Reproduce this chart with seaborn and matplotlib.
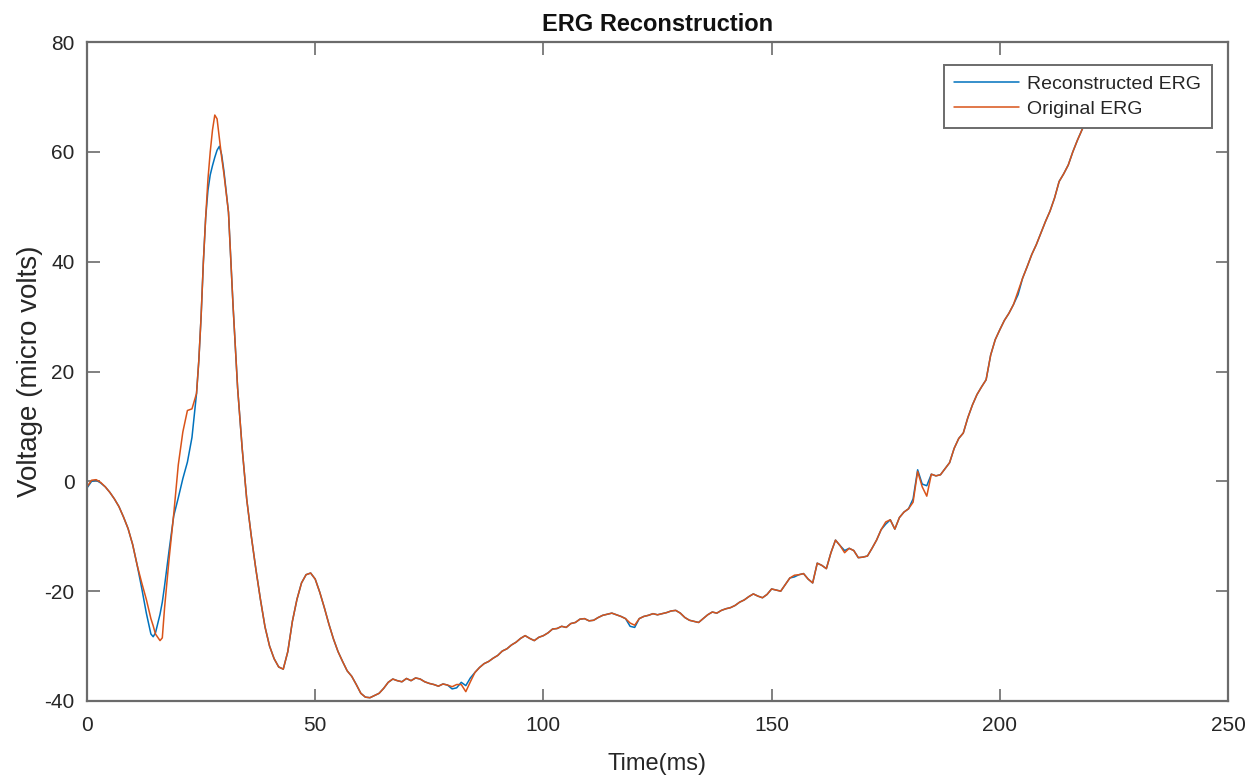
import numpy as np
import pandas as pd
import matplotlib
matplotlib.use("Agg")
import matplotlib.pyplot as plt
import seaborn as sns

# ---------------- data ----------------
time_ms = [0, 1, 2, 3, 4, 5, 6, 7, 8, 9, 10, 11, 12, 13, 14, 14.5, 15, 16, 16.5, 17,
           18, 19, 20, 21, 22, 23, 24, 24.5, 25, 25.5, 26, 26.5, 27, 27.5, 28, 28.5,
           29, 29.5, 30, 31, 32, 33, 34, 35, 36, 37, 38, 39, 40, 41, 42, 43, 44, 45,
           46, 47, 48, 49, 50, 51, 52, 53, 54, 55, 56, 57, 58, 59, 60, 61,
           62, 63, 64, 65, 66, 67, 68, 69, 70, 71, 72, 73, 74, 75, 76, 77, 78, 79,
           80, 81, 82, 83, 84, 85, 86, 87, 88, 89, 90, 91, 92, 93, 94, 95, 96, 97,
           98, 99, 100, 101, 102, 103, 104, 105, 106, 107, 108, 109, 110, 111, 112,
           113, 114, 115, 116, 117, 118, 119, 120, 121, 122, 123, 124, 125, 126, 127,
           128, 129, 130, 131, 132, 133, 134, 135, 136, 137, 138, 139, 140, 141, 142,
           143, 144, 145, 146, 147, 148, 149, 150, 151, 152, 153, 154, 155, 156, 157,
           158, 159, 160, 161, 162, 163, 164, 165, 166, 167, 168, 169, 170, 171, 172,
           173, 174, 175, 176, 177, 178, 179, 180, 181, 182, 183, 184, 185, 186, 187,
           188, 189, 190, 191, 192, 193, 194, 195, 196, 197, 198, 199, 200, 201, 202,
           203, 204, 205, 206, 207, 208, 209, 210, 211, 212, 213, 214, 215, 216, 217,
           218, 219, 220, 221]

reconstructed_uv = [-1.2, 0.0, 0.2, -0.3, -1.0, -2.0, -3.2, -4.6, -6.5, -8.6, -11.5, -15.3,
                    -19.5, -24.0, -27.8, -28.3, -27.6, -24.2, -22.0, -19.0,
                    -12.5, -6.3, -3.0, 0.5, 3.5, 8.0, 16.0, 22.0, 30.0, 40.0, 48.0, 53.0,
                    55.8, 57.5, 59.0, 60.3, 61.0, 59.5, 56.5, 49.0, 32.0, 17.0, 6.0, -3.3,
                    -10.0, -16.0, -21.5, -26.5, -30.0, -32.3, -33.8, -34.2, -31.0, -25.5,
                    -21.5, -18.5, -17.0, -16.7, -17.8, -20.2, -23.0, -26.0, -28.7, -31.0,
                    -32.8, -34.5, -35.5, -37.0, -38.6, -39.3,
                    -39.4, -39.0, -38.6, -37.7, -36.6, -36.0, -36.3, -36.5, -35.9, -36.3,
                    -35.8, -36.0, -36.5, -36.8, -37.0, -37.3, -36.9, -37.1,
                    -37.8, -37.6, -36.6, -37.2, -35.8, -34.8, -33.9, -33.2, -32.8, -32.2,
                    -31.7, -30.9, -30.5, -29.8, -29.3, -28.6, -28.1, -28.6,
                    -29.0, -28.4, -28.1, -27.6, -26.9, -26.8, -26.4, -26.6, -25.9, -25.7,
                    -25.1, -25.0, -25.4, -25.3, -24.8,
                    -24.4, -24.2, -24.0, -24.3, -24.6, -25.0, -26.4, -26.6, -25.0, -24.6,
                    -24.4, -24.1, -24.3, -24.1, -23.9,
                    -23.6, -23.5, -24.0, -24.8, -25.3, -25.5, -25.7, -25.0, -24.3, -23.8,
                    -24.0, -23.5, -23.2, -23.0, -22.6,
                    -22.0, -21.6, -21.0, -20.5, -20.9, -21.2, -20.6, -19.6, -19.8, -20.0,
                    -18.8, -17.6, -17.4, -17.0, -16.8,
                    -17.8, -18.5, -14.9, -15.3, -15.9, -13.0, -10.7, -11.7, -12.6, -12.2,
                    -12.6, -13.9, -13.8, -13.6, -12.2,
                    -10.7, -8.8, -7.8, -7.0, -8.7, -6.6, -5.6, -5.0, -3.2, 2.1, -0.5, -0.8,
                    1.3, 1.0, 1.2,
                    2.3, 3.4, 6.0, 7.8, 8.8, 11.6, 13.9, 15.8, 17.2, 18.5, 23.0, 25.8, 27.6,
                    29.3, 30.6,
                    32.2, 34.0, 37.0, 39.1, 41.3, 43.1, 45.2, 47.3, 49.2, 51.6, 54.6, 56.0,
                    57.6, 60.0, 62.1,
                    64.0, 65.8, 67.5, 69.0]

original_uv = [-1.0, 0.2, 0.3, -0.2, -1.0, -2.0, -3.2, -4.6, -6.5, -8.6, -11.5, -15.3,
               -18.5, -21.5, -25.0, -26.3, -27.8, -29.0, -28.5, -23.0,
               -14.0, -6.0, 3.0, 9.0, 12.9, 13.2, 16.0, 22.0, 30.0, 40.0, 48.0, 55.0,
               60.0, 64.0, 66.7, 66.0, 62.5, 59.0, 56.0, 49.0, 32.0, 17.0, 6.0, -3.3,
               -10.0, -16.0, -21.5, -26.5, -30.0, -32.3, -33.8, -34.2, -31.0, -25.5,
               -21.5, -18.5, -17.0, -16.7, -17.8, -20.2, -23.0, -26.0, -28.7, -31.0,
               -32.8, -34.5, -35.5, -37.0, -38.6, -39.3,
               -39.4, -39.0, -38.6, -37.7, -36.6, -36.0, -36.3, -36.5, -35.9, -36.3,
               -35.8, -36.0, -36.5, -36.8, -37.0, -37.3, -36.9, -37.1,
               -37.4, -37.0, -37.0, -38.3, -36.5, -34.8, -33.9, -33.2, -32.8, -32.2,
               -31.7, -30.9, -30.5, -29.8, -29.3, -28.6, -28.1, -28.6,
               -29.0, -28.4, -28.1, -27.6, -26.9, -26.8, -26.4, -26.6, -25.9, -25.7,
               -25.1, -25.0, -25.4, -25.3, -24.8,
               -24.4, -24.2, -24.0, -24.3, -24.6, -25.0, -25.8, -26.2, -25.0, -24.6,
               -24.4, -24.1, -24.3, -24.1, -23.9,
               -23.6, -23.5, -24.0, -24.8, -25.3, -25.5, -25.7, -25.0, -24.3, -23.8,
               -24.0, -23.5, -23.2, -23.0, -22.6,
               -22.0, -21.6, -21.0, -20.5, -20.9, -21.2, -20.6, -19.6, -19.8, -20.0,
               -18.8, -17.6, -17.1, -17.0, -16.8,
               -17.8, -18.5, -14.9, -15.3, -15.9, -13.0, -10.7, -11.7, -13.0, -12.2,
               -12.6, -13.9, -13.8, -13.6, -12.2,
               -10.7, -8.8, -7.4, -7.0, -8.7, -6.6, -5.6, -5.0, -3.8, 1.8, -1.0, -2.7,
               1.3, 1.0, 1.2,
               2.3, 3.4, 6.0, 7.8, 8.8, 11.6, 13.9, 15.8, 17.2, 18.5, 23.0, 25.8, 27.6,
               29.3, 30.6,
               32.2, 34.6, 37.0, 39.1, 41.3, 43.1, 45.2, 47.3, 49.2, 51.6, 54.6, 56.0,
               57.6, 60.0, 62.1,
               64.0, 65.8, 67.5, 69.0]

series_names = ["Reconstructed ERG", "Original ERG"]
x_ticks = [0, 50, 100, 150, 200, 250]
y_ticks = [-40, -20, 0, 20, 40, 60, 80]

# ---------------- build long-form table ----------------
df = pd.concat([
    pd.DataFrame({"Time": time_ms, "Voltage": reconstructed_uv, "Series": series_names[0]}),
    pd.DataFrame({"Time": time_ms, "Voltage": original_uv, "Series": series_names[1]}),
], ignore_index=True)

sns.set_theme(style="white")
plt.rcParams["font.family"] = ["Liberation Sans", "DejaVu Sans"]
plt.rcParams["axes.unicode_minus"] = False

W, H = 1257, 782
fig = plt.figure(figsize=(W / 100, H / 100), dpi=100)
ax = fig.add_axes([87 / W, 1 - 701 / H, (1228 - 87) / W, (701 - 42) / H])

palette = {series_names[0]: "#0072BD", series_names[1]: "#D95319"}
sns.lineplot(data=df, x="Time", y="Voltage", hue="Series", hue_order=series_names,
             palette=palette, estimator=None, sort=False, linewidth=1.1, ax=ax)

ax.set_xlim(0, 250)
ax.set_ylim(-40, 80)
ax.set_xticks(x_ticks)
ax.set_yticks(y_ticks)

frame_col = "#6b6b6b"
for sp in ax.spines.values():
    sp.set_visible(True)
    sp.set_color(frame_col)
    sp.set_linewidth(1.6)

ax.tick_params(direction="in", length=9, width=1.2, color=frame_col,
               top=True, right=True, bottom=True, left=True,
               labelsize=15, labelcolor="#262626")
ax.tick_params(axis="x", pad=11)
ax.tick_params(axis="y", pad=9)

ax.set_xlabel("Time(ms)", fontsize=17, color="#262626", labelpad=13)
ax.set_ylabel("Voltage (micro volts)", fontsize=20, color="#262626", labelpad=1)
ax.set_title("ERG Reconstruction", fontsize=17, fontweight="bold", color="#111111", pad=8)

leg = ax.legend(loc="upper right", bbox_to_anchor=((1212 - 87) / 1141, (701 - 65) / 659),
                borderaxespad=0, fontsize=14, frameon=True, fancybox=False,
                framealpha=1, edgecolor=frame_col, handlelength=3.3,
                borderpad=0.55, labelspacing=0.35, handletextpad=0.45)
leg.get_frame().set_linewidth(1.4)
for t in leg.get_texts():
    t.set_color("#262626")

fig.savefig("out.png", dpi=100, facecolor="white")
